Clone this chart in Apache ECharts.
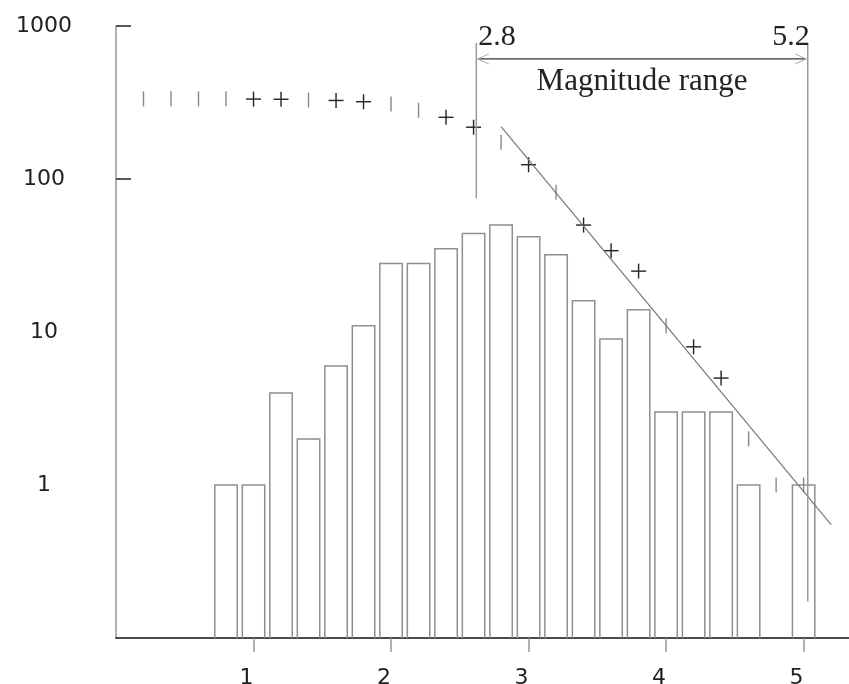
<!DOCTYPE html>
<html><head><meta charset="utf-8">
<script src="https://cdn.jsdelivr.net/npm/echarts@6/dist/echarts.min.js"></script>
<style>html,body{margin:0;padding:0;background:#fff}#c{width:849px;height:684px}</style>
</head><body><div id="c"></div>
<script>
// ---------------- data ----------------
const binCenters = [0.8,1.0,1.2,1.4,1.6,1.8,2.0,2.2,2.4,2.6,2.8,3.0,3.2,3.4,3.6,3.8,4.0,4.2,4.4,4.6,4.8,5.0];
const binCounts  = [1,1,4,2,6,11,28,28,35,44,50,42,32,16,9,14,3,3,3,1,0,1];
const cumMags    = [0.2,0.4,0.6,0.8,1.0,1.2,1.4,1.6,1.8,2.0,2.2,2.4,2.6,2.8,3.0,3.2,3.4,3.6,3.8,4.0,4.2,4.4,4.6,4.8,5.0];
const cumCounts  = [334,334,334,334,333,332,328,326,320,309,281,253,218,174,124,82,50,34,25,11,8,5,2,1,1];
const fitMags    = [2.8, 5.2];
const fitCounts  = [220, 0.55];
const xTickValues  = [1,2,3,4,5];
const yLabelValues = [1,10,100,1000];
const yTickValues  = [100,1000];
const rangeMags    = [2.62, 5.03];
const rangeLabels  = ['2.8','5.2'];
const rangeTitle   = 'Magnitude range';

// ---------------- styling / layout ----------------
const crossedMags = [1.0,1.2,1.6,1.8,2.4,2.6,3.0,3.4,3.6,3.8,4.2,4.4];
const binHalf = 0.0815;
const yMin = 0.1, yMax = 1000;
const annTop = 775, annLeftBottom = 75, annRightBottom = 0.173, annArrowY = 609;

const chart = echarts.init(document.getElementById('c'), null, {renderer:'canvas'});

const barData = [];
binCenters.forEach((m,i)=>{ if (binCounts[i] > 0) barData.push([m, binCounts[i]]); });
const cumData = cumMags.map((m,i)=>[m, cumCounts[i]]);
const fitData = fitMags.map((m,i)=>[m, fitCounts[i]]);

const serif = '"Liberation Serif", "Times New Roman", serif';

chart.setOption({
  animation:false,
  backgroundColor:'#fff',
  grid:{left:116, right:0, top:26, bottom:46, containLabel:false, outerBoundsMode:'none'},
  xAxis:{
    type:'value', min:0, max:5.33, interval:1,
    axisLine:{show:true, onZero:false, lineStyle:{color:'#111', width:1.5}},
    axisTick:{show:true, inside:false, length:14, customValues:xTickValues, lineStyle:{color:'#999', width:1.5}},
    axisLabel:{customValues:xTickValues, margin:29, fontFamily:'DejaVu Sans', fontSize:22, color:'#222', padding:[0,14,0,0]},
    splitLine:{show:false}
  },
  yAxis:{
    type:'log', logBase:10, min:yMin, max:yMax,
    axisLine:{show:true, lineStyle:{color:'#999', width:1.5}},
    axisTick:{show:true, inside:true, length:15, customValues:yTickValues, lineStyle:{color:'#222', width:1.5}},
    axisLabel:{customValues:yLabelValues, align:'center', margin:72, fontFamily:'DejaVu Sans', fontSize:22, color:'#222',
      formatter:v=>String(Math.round(v))},
    splitLine:{show:false}
  },
  series:[
    {
      type:'custom', name:'histogram', data:barData, encode:{x:0,y:1}, z:2,
      renderItem(params, api){
        const m = api.value(0), n = api.value(1);
        const tl = api.coord([m-binHalf, n]);
        const br = api.coord([m+binHalf, yMin]);
        return {type:'polyline', shape:{points:[[tl[0],br[1]],[tl[0],tl[1]],[br[0],tl[1]],[br[0],br[1]]]},
          style:{fill:'none', stroke:'#8f8f8f', lineWidth:1.5}};
      }
    },
    {
      type:'custom', name:'cumulative', data:cumData, encode:{x:0,y:1}, z:3,
      renderItem(params, api){
        const m = api.value(0), n = api.value(1);
        const p = api.coord([m,n]);
        const h = 7.5;
        const crossed = crossedMags.some(c=>Math.abs(c-m)<1e-6);
        const col = crossed ? '#222' : '#888';
        const ch = [{type:'line', shape:{x1:p[0],y1:p[1]-h,x2:p[0],y2:p[1]+h}, style:{stroke:col, lineWidth:1.4}}];
        if (crossed) ch.push({type:'line', shape:{x1:p[0]-h,y1:p[1],x2:p[0]+h,y2:p[1]}, style:{stroke:col, lineWidth:1.4}});
        return {type:'group', children:ch};
      }
    },
    {
      type:'line', name:'fit', data:fitData, symbol:'none', z:4,
      lineStyle:{color:'#777', width:1.2}
    },
    {
      type:'custom', name:'range', data:[[rangeMags[0], annArrowY]], encode:{x:0,y:1}, z:5,
      renderItem(params, api){
        const lt = api.coord([rangeMags[0], annTop]);
        const lb = api.coord([rangeMags[0], annLeftBottom]);
        const rt = api.coord([rangeMags[1], annTop]);
        const rb = api.coord([rangeMags[1], annRightBottom]);
        const al = api.coord([rangeMags[0], annArrowY]);
        const ar = api.coord([rangeMags[1], annArrowY]);
        const y = al[1];
        const x0 = al[0] + 1.5, x1 = ar[0] - 1.5;
        const grey = {stroke:'#999', lineWidth:1.5};
        return {type:'group', children:[
          {type:'line', shape:{x1:lt[0],y1:lt[1],x2:lb[0],y2:lb[1]}, style:grey},
          {type:'line', shape:{x1:rt[0],y1:rt[1],x2:rb[0],y2:rb[1]}, style:grey},
          {type:'line', shape:{x1:x0,y1:y,x2:x1,y2:y}, style:{stroke:'#333', lineWidth:1.3}},
          {type:'polyline', shape:{points:[[x0+11,y-5],[x0,y],[x0+11,y+5]]}, style:{fill:'none', stroke:'#aaa', lineWidth:1}},
          {type:'polyline', shape:{points:[[x1-11,y-5],[x1,y],[x1-11,y+5]]}, style:{fill:'none', stroke:'#aaa', lineWidth:1}},
          {type:'text', x:al[0]+2, y:y-22, style:{text:rangeLabels[0], font:'30px '+serif, fill:'#222', align:'left', verticalAlign:'middle'}},
          {type:'text', x:ar[0]+2, y:y-22, style:{text:rangeLabels[1], font:'30px '+serif, fill:'#222', align:'right', verticalAlign:'middle'}},
          {type:'text', x:(al[0]+ar[0])/2, y:y+23, style:{text:rangeTitle, font:'31px '+serif, fill:'#222', align:'center', verticalAlign:'middle'}}
        ]};
      }
    }
  ]
});
</script>
</body></html>
